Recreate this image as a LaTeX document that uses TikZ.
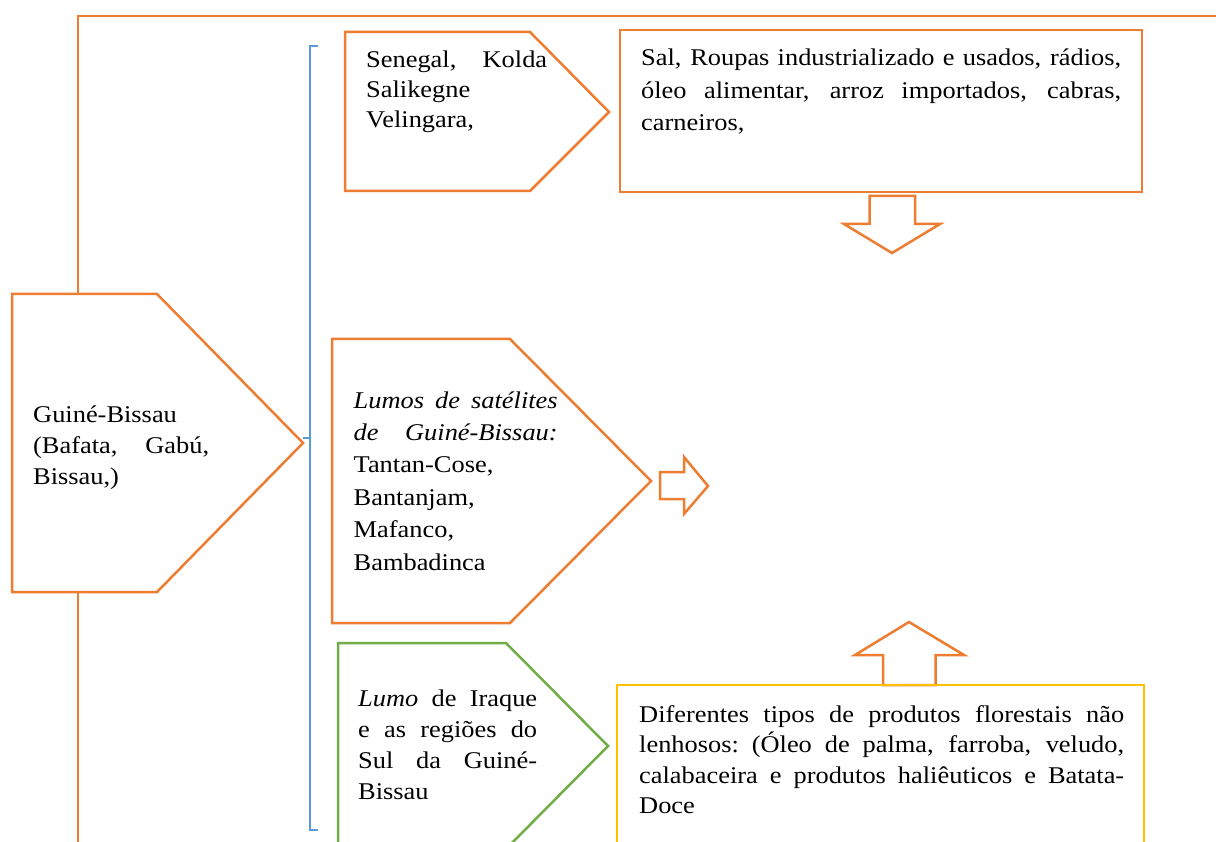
\documentclass[tikz,border=0pt]{standalone}
\usepackage{fontspec}
\setmainfont[FakeStretch=1.1]{Liberation Serif}
\definecolor{accorange}{HTML}{ED7D31}
\definecolor{accgreen}{HTML}{70AD47}
\definecolor{accblue}{HTML}{5B9BD5}
\definecolor{accgold}{HTML}{FFC000}
% a justified line of given width: inter-word spaces share the slack evenly
\newcommand{\jline}[2]{\leavevmode\hbox to #1{\spaceskip=0.25em plus 1fil\xspaceskip=\spaceskip #2}}
\begin{document}
\begin{tikzpicture}[x=1pt,y=-1pt,
  outl/.style={draw=accorange,line width=2.5pt,line join=miter},
  grnl/.style={draw=accgreen,line width=2.5pt,line join=miter},
  goldl/.style={draw=accgold,line width=2.5pt,line join=miter},
  brack/.style={draw=accblue,line width=1.5pt},
  txt/.style={anchor=base west,inner sep=0pt,align=left},
]
\useasboundingbox (0,0) rectangle (1216,842);
\clip (0,0) rectangle (1216,842);

% main trunk line
\coordinate (trunkTop) at (78,294);
\coordinate (trunkBot) at (78,592);
\draw[outl] (trunkTop) -- (78,16) -- (1216,16);
\draw[outl] (trunkBot) -- (78,842);

% Guine-Bissau pentagon
\draw[outl] (12,294) -- (157,294) -- (303,443) -- (157,592) -- (12,592) -- cycle;
\node[txt,text width=176pt,font=\fontsize{24}{31}\selectfont] (gb) at (33,422)
  {Guiné-Bissau\\ \jline{176pt}{(Bafata, Gabú,}\\ Bissau,)};

% bracket
\draw[brack] (318,46) -- (310,46) -- (310,830) -- (318,830);
\draw[brack] (310,438) -- (303,438);

% Senegal pentagon
\draw[outl] (345,32) -- (530,32) -- (609,112) -- (530,191) -- (345,191) -- cycle;
\node[txt,text width=181pt,font=\fontsize{24}{30}\selectfont] (sen) at (366,68)
  {\jline{181pt}{Senegal, Kolda}\\ Salikegne\\ Velingara,};

% goods box (top)
\draw[outl] (620,30) rectangle (1142,192);
\node[txt,text width=480pt,font=\fontsize{24}{32.5}\selectfont] (sal) at (641,66)
  {\jline{480pt}{Sal, Roupas industrializado e usados, rádios,}\\
   \jline{480pt}{óleo alimentar, arroz importados, cabras,}\\
   carneiros,};

% down block arrow
\draw[outl] (869.5,196) -- (915,196) -- (915,224) -- (940,224) -- (892,253)
  -- (844,224) -- (869.5,224) -- cycle;

% Lumos pentagon
\draw[outl] (332,339) -- (510,339) -- (651,481) -- (510,623) -- (332,623) -- cycle;
\node[txt,text width=204pt,font=\fontsize{24}{32.4}\selectfont] (lum) at (353.5,408)
  {\jline{204pt}{\itshape Lumos de satélites}\\
   \jline{204pt}{\itshape de Guiné-Bissau:}\\
   Tantan-Cose,\\ Bantanjam,\\ Mafanco,\\ Bambadinca};

% right block arrow
\draw[outl] (660,472) -- (684,472) -- (684,457) -- (708,486) -- (684,514)
  -- (684,499) -- (660,499) -- cycle;

% up block arrow
\draw[outl] (883,685) -- (883,655) -- (855,655) -- (909,622) -- (964,655)
  -- (935.5,655) -- (935.5,685) -- cycle;

% Lumo de Iraque pentagon
\draw[grnl] (338,643) -- (506,643) -- (608,746) -- (506,849) -- (338,849) -- cycle;
\node[txt,text width=179pt,font=\fontsize{24}{31}\selectfont] (iraq) at (358,706)
  {\jline{179pt}{\textit{Lumo} de Iraque}\\
   \jline{179pt}{e as regiões do}\\
   \jline{179pt}{Sul da Guiné-}\\
   Bissau};

% forest products box
\draw[goldl] (617,685) rectangle (1144,870);
\node[txt,text width=485pt,font=\fontsize{24}{30.5}\selectfont] (prod) at (639,722)
  {\jline{485pt}{Diferentes tipos de produtos florestais não}\\
   \jline{485pt}{lenhosos: (Óleo de palma, farroba, veludo,}\\
   \jline{485pt}{calabaceira e produtos haliêuticos e Batata-}\\
   Doce};
\end{tikzpicture}
\end{document}
